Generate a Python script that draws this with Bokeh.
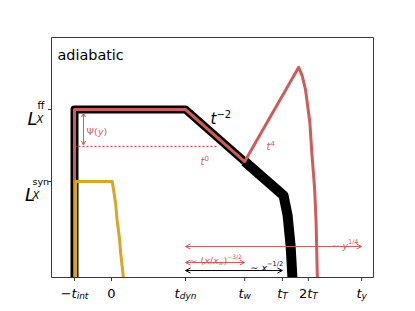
from bokeh.plotting import figure
from bokeh.models import Range1d, Label, Arrow, OpenHead
from bokeh.embed import file_html
from bokeh.resources import INLINE

# ---------------- data ----------------
X_TICKS = [-1.0, 0.0, 2.0, 3.6, 4.62, 5.32, 6.76]   # -t_int, 0, t_dyn, t_w, t_T, 2t_T, t_y
Y_TICKS = [0.70, 0.40]                              # L_X^ff, L_X^syn
T_INT, T_ZERO, T_DYN, T_W, T_T, T_2T, T_Y = X_TICKS
L_FF, L_SYN = Y_TICKS

black_thin_x = [-1.0, -1.0, 2.0, 3.6]
black_thin_y = [0.0, 0.70, 0.70, 0.483]
black_thick_x = [3.6, 4.65, 4.76, 4.84, 4.89]
black_thick_y = [0.483, 0.342, 0.258, 0.133, 0.0]

red_x = [-1.0, -1.0, 2.0, 3.6, 5.06, 5.15, 5.24, 5.30, 5.36, 5.42, 5.49, 5.53, 5.56, 5.565]
red_y = [0.0, 0.70, 0.70, 0.483, 0.876, 0.842, 0.786, 0.717, 0.647, 0.508, 0.370, 0.230, 0.022, 0.0]

gold_x = [-0.97, -0.97, 0.02, 0.06, 0.11, 0.15, 0.21, 0.25, 0.30, 0.32]
gold_y = [0.0, 0.40, 0.40, 0.36, 0.31, 0.24, 0.17, 0.10, 0.03, 0.0]

t0_level = 0.546
t0_x = [-1.0, 2.89]

psi_x = -0.757
psi_y = [0.552, 0.685]

arrow_long_y = 0.129    # ~ y^{1/4}: t_dyn -> t_y
arrow_mid_y = 0.0625    # ~ (x/x_w)^{-3/2}: t_dyn -> t_w
arrow_blk_y = 0.029     # ~ x^{-1/2}: t_dyn -> t_T

# ---------------- layout ----------------
XMIN, XMAX = -1.6216, 7.0811        # axes box
YMIN, YMAX = 0.0, 1.0
BOX_L, BOX_T = 51.0, 37.0           # page pixels of the axes box
SX = 322.0 / (XMAX - XMIN)
SY = 240.0 / (YMAX - YMIN)
W, H = 413, 309

RED = "#cd5c5c"
GOLD = "#daa520"
FONT = "DejaVu Sans"

def dx(px):
    return XMIN + (px - BOX_L) / SX

def dy(py):
    return YMAX - (py - BOX_T) / SY

p = figure(width=W, height=H, x_range=Range1d(dx(0), dx(W)), y_range=Range1d(dy(H), dy(0)),
           output_backend="svg", toolbar_location=None,
           x_axis_location=None, y_axis_location=None, min_border=0)
p.xgrid.visible = False
p.ygrid.visible = False
p.background_fill_color = "white"
p.border_fill_color = "white"
p.outline_line_color = None

# ---------------- marks ----------------
p.line(black_thin_x, black_thin_y, line_color="black", line_width=8, line_join="round")
p.line(black_thick_x, black_thick_y, line_color="black", line_width=10, line_join="round")
p.line(red_x, red_y, line_color=RED, line_width=3, line_join="round")
p.line(gold_x, gold_y, line_color=GOLD, line_width=3, line_join="round")
p.line(t0_x, [t0_level, t0_level], line_color=RED, line_width=1.6, line_dash="2 2")

# white mask below the axes box (curves end at the bottom spine)
p.quad(left=[XMIN - 0.5], right=[XMAX + 0.5], bottom=[dy(H)], top=[YMIN],
       fill_color="white", line_color=None)

# axes box and ticks
p.line([XMIN, XMAX, XMAX, XMIN, XMIN], [YMIN, YMIN, YMAX, YMAX, YMIN],
       line_color="#222222", line_width=0.9)
p.segment(x0=X_TICKS, y0=[YMIN] * len(X_TICKS), x1=X_TICKS, y1=[YMIN - 3.5 / SY] * len(X_TICKS),
          line_color="#222222", line_width=0.9)
p.segment(x0=[XMIN] * len(Y_TICKS), y0=Y_TICKS, x1=[XMIN - 3.5 / SX] * len(Y_TICKS), y1=Y_TICKS,
          line_color="#222222", line_width=0.9)

def harrow(x0, y0, x1, y1, color, size=5):
    p.add_layout(Arrow(start=OpenHead(size=size, line_color=color, line_width=1),
                       end=OpenHead(size=size, line_color=color, line_width=1),
                       x_start=x0, y_start=y0, x_end=x1, y_end=y1,
                       line_color=color, line_width=1))

harrow(psi_x, psi_y[0], psi_x, psi_y[1], RED, size=4)
harrow(T_DYN, arrow_long_y, T_Y, arrow_long_y, RED)
harrow(T_DYN, arrow_mid_y, T_W, arrow_mid_y, RED)
harrow(T_DYN, arrow_blk_y, T_T, arrow_blk_y, "black")

# ---------------- text helpers ----------------
WID = {" ": 0.318, "(": 0.390, ")": 0.390, "/": 0.337, "−": 0.838, "∼": 0.838,
       "L": 0.557, "T": 0.611, "X": 0.686, "Ψ": 0.82, "a": 0.613, "b": 0.635, "c": 0.550,
       "d": 0.635, "f": 0.352, "i": 0.278, "n": 0.634, "s": 0.521, "t": 0.392,
       "w": 0.818, "x": 0.592, "y": 0.592}

def tw(s, size):
    return sum(WID.get(c, 0.636) for c in s) * size

def put(text, px, py, size, italic, color):
    p.add_layout(Label(x=dx(px), y=dy(py), text=text, text_font=FONT,
                       text_font_size=f"{size}px",
                       text_font_style="italic" if italic else "normal",
                       text_color=color, text_align="left", text_baseline="alphabetic"))

def seq(parts, px, py, color, align="left"):
    total = sum(tw(t, s) for t, s, _, _ in parts)
    x = px - total / 2 if align == "center" else (px - total if align == "right" else px)
    for t, s, it, off in parts:
        put(t, x, py + off, s, it, color)
        x += tw(t, s)

# x tick labels
x_label_parts = [
    [("−", 13, False, 0), ("t", 13, True, 0), ("int", 9, True, 2.5)],
    [("0", 13, False, 0)],
    [("t", 13, True, 0), ("dyn", 9, True, 2.5)],
    [("t", 13, True, 0), ("w", 9, True, 2.5)],
    [("t", 13, True, 0), ("T", 9, True, 2.5)],
    [("2", 13, False, 0), ("t", 13, True, 0), ("T", 9, True, 2.5)],
    [("t", 13, True, 0), ("y", 9, True, 2.5)],
]
for tick, parts in zip(X_TICKS, x_label_parts):
    seq(parts, BOX_L + (tick - XMIN) * SX, 293, "black", align="center")

# y tick labels
yff = BOX_T + (YMAX - L_FF) * SY
ysy = BOX_T + (YMAX - L_SYN) * SY
put("L", 27, yff + 9, 18, True, "black")
put("ff", 37, yff - 4.5, 10, False, "black")
put("X", 36, yff + 10, 10, True, "black")
put("L", 24.5, ysy + 13, 18, True, "black")
put("syn", 32, ysy - 0.5, 9.5, False, "black")
put("X", 32, ysy + 13.5, 10, True, "black")

# annotations
put("adiabatic", 57, 54, 14.4, False, "black")
seq([("t", 15, True, 0), ("−2", 10, False, -5)], 210, 118, "black")
seq([("Ψ(", 9.5, False, 0), ("y", 9.5, True, 0), (")", 9.5, False, 0)], 86, 131, RED)
seq([("t", 10, True, 0), ("0", 7, False, -4)], 200, 161, RED)
seq([("t", 10, True, 0), ("4", 7, False, -4)], 266, 146, RED)
seq([("∼ ", 9.5, False, 0), ("y", 9.5, True, 0), ("1/4", 6.5, False, -4)], 358, 245, RED, align="right")
seq([("∼ (", 9.5, False, 0), ("x", 9.5, True, 0), ("/", 9.5, False, 0), ("x", 9.5, True, 0),
     ("w", 6, True, 1.5), (")", 9.5, False, 0), ("−3/2", 6, False, -4)], 189, 260, RED)
seq([("∼ ", 9.5, False, 0), ("x", 9.5, True, 0), ("−1/2", 6.5, False, -4)], 250, 267, "black")

open("out.html", "w").write(file_html(p, INLINE))
